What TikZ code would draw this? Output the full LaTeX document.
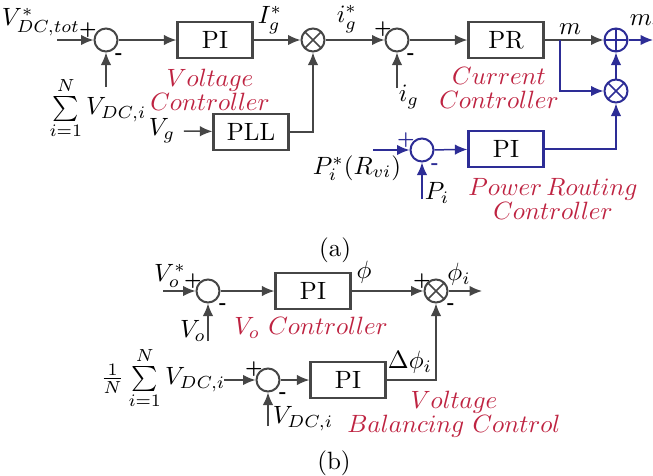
\documentclass[tikz,border=0pt]{standalone}
\usepackage{amsmath}
\usepackage{amssymb}
\usepackage{xcolor}
\usepackage{tikz}
\usetikzlibrary{positioning,arrows.meta,calc}
\definecolor{ctrlred}{RGB}{190,35,65}
\definecolor{routeblue}{RGB}{45,45,150}
\definecolor{linegray}{RGB}{70,70,70}

\begin{document}
\begin{tikzpicture}[
    x=0.4pt, y=-0.4pt,
    every node/.style={font=\normalsize},
    blk/.style={draw=linegray, line width=0.9pt, minimum width=30pt, minimum height=14.4pt, inner sep=0pt, fill=white},
    sumnode/.style={draw=#1, circle, line width=0.8pt, minimum size=9.2pt, inner sep=0pt},
    sumnode/.default=linegray,
    mulnode/.style={sumnode=#1, path picture={\draw[#1, line width=0.6pt]
        (path picture bounding box.north west) -- (path picture bounding box.south east)
        (path picture bounding box.north east) -- (path picture bounding box.south west);}},
    mulnode/.default=linegray,
    addnode/.style={sumnode=#1, path picture={\draw[#1, line width=0.6pt]
        (path picture bounding box.north) -- (path picture bounding box.south)
        (path picture bounding box.west) -- (path picture bounding box.east);}},
    addnode/.default=linegray,
    arrow/.style={-{Latex[length=5pt,width=4.2pt]}, draw=linegray, line width=0.6pt},
    link/.style={draw=linegray, line width=0.6pt},
    barrow/.style={arrow, draw=routeblue, color=routeblue},
    blink/.style={link, draw=routeblue},
    ctrl/.style={text=ctrlred, align=center, font=\fontsize{10}{9.6}\selectfont},
    pm/.style={font=\scriptsize\bfseries, inner sep=0pt}
  ]
  \useasboundingbox (0,0) rectangle (653,475);

  % --- (a) voltage loop ---
  \node[sumnode] (s1) at (106,40) {};
  \node[blk] (pi1) at (215,40) {PI};
  \node[mulnode] (x1) at (313,40) {};
  \node[blk] (pll) at (251,132) {PLL};
  \node (vref) at (41,22) {$V^{*}_{DC,tot}$};
  \coordinate (vin) at (57,40);
  \node (vsum) at (98,108) {$\sum\limits_{i=1}^{N} V_{DC,i}$};
  \coordinate (vfb) at (106,87);
  \node (vg) at (162,131) {$V_{g}$};
  \node (iref) at (270,20) {$I^{*}_{g}$};
  \node[ctrl] (vctrl) at (210,90) {$Voltage$\\$Controller$};
  \node[pm] at (88,30) {$\boldsymbol{+}$};
  \node[pm] at (119,56) {-};

  % --- (a) current loop ---
  \node[sumnode] (s2) at (397,40) {};
  \node[blk] (pr) at (506,40) {PR};
  \node[addnode=routeblue] (ad) at (616,40) {};
  \node[mulnode=routeblue] (x2) at (616,91) {};
  \node (igref) at (347,19) {$i^{*}_{g}$};
  \node (ig) at (409,97) {$i_{g}$};
  \coordinate (igfb) at (397,88);
  \node (m) at (570,29) {$m$};
  \node (mi) at (645,22) {$m_{i}$};
  \coordinate (mout) at (653,40);
  \coordinate (br) at (560,40);
  \node[ctrl] (cctrl) at (499,88) {$Current$\\$Controller$};
  \node[pm] at (383,29) {$\boldsymbol{+}$};
  \node[pm] at (411,56) {-};

  % --- (a) power routing loop ---
  \node[sumnode=routeblue] (s3) at (422,150) {};
  \node[blk, draw=routeblue] (pi2) at (506,149) {PI};
  \node (pref) at (357,168) {$P^{*}_{i}(R_{vi})$};
  \coordinate (pin) at (373,150);
  \node (pi) at (437,193) {$P_{i}$};
  \coordinate (pfb) at (422,199);
  \node[ctrl] (pctrl) at (553,199) {$Power\,Routing$\\$Controller$};
  \node[pm, text=routeblue] at (406,140) {$\boldsymbol{+}$};
  \node[pm, text=routeblue] at (435,166) {-};

  \node (capa) at (335,250) {(a)};

  % --- (b) ---
  \node[sumnode] (s4) at (208,291) {};
  \node[blk] (pi3) at (313,291) {PI};
  \node[mulnode] (x3) at (436,291) {};
  \node (voref) at (170,276) {$V^{*}_{o}$};
  \coordinate (voin) at (163,291);
  \node (vo) at (193,331) {$V_{o}$};
  \coordinate (vofb) at (208,341);
  \node (phi) at (364,272) {$\phi$};
  \node (phii) at (459,274) {$\phi_{i}$};
  \coordinate (phiout) at (482,291);
  \node[ctrl] (voctrl) at (311,328) {$V_{o}\ Controller$};
  \node[pm] at (193,281) {$\boldsymbol{+}$};
  \node[pm] at (223,306) {-};
  \node[pm] at (422,281) {$\boldsymbol{+}$};
  \node[pm] at (451,306) {-};

  \node[sumnode] (s5) at (268,380) {};
  \node[blk] (pi4) at (348,380) {PI};
  \node (avg) at (163,378) {$\frac{1}{N}\sum\limits_{i=1}^{N} V_{DC,i}$};
  \coordinate (avgin) at (224,380);
  \node (vdci) at (303,419) {$V_{DC,i}$};
  \coordinate (vdcfb) at (268,426);
  \node (dphi) at (410,362) {$\Delta\phi_{i}$};
  \node[ctrl] (bctrl) at (454,414) {$Voltage$\\$Balancing\ Control$};
  \node[pm] at (254,369) {$\boldsymbol{+}$};
  \node[pm] at (283,395) {-};

  \node (capb) at (334,463) {(b)};

  % --- arrows (a) ---
  \draw[arrow] (vin) -- (s1);
  \draw[arrow] (vfb) -- (s1);
  \draw[arrow] (s1) -- (pi1);
  \draw[arrow] (pi1) -- (x1);
  \draw[arrow] (vg.east) -- (pll);
  \draw[arrow] (pll.east) -| (x1.south);
  \draw[arrow] (x1) -- (s2);
  \draw[arrow] (igfb) -- (s2);
  \draw[arrow] (s2) -- (pr);
  \draw[link] (pr) -- (br);
  \draw[arrow] (br) -- (ad);
  \draw[barrow] (br) |- (x2);
  \draw[barrow] (x2) -- (ad);
  \draw[barrow] (ad) -- (mout);
  \draw[barrow] (pin) -- (s3);
  \draw[barrow] (pfb) -- (s3);
  \draw[barrow] (s3) -- (pi2);
  \draw[barrow] (pi2.east) -| (x2.south);

  % --- arrows (b) ---
  \draw[arrow] (voin) -- (s4);
  \draw[arrow] (vofb) -- (s4);
  \draw[arrow] (s4) -- (pi3);
  \draw[arrow] (pi3) -- (x3);
  \draw[arrow] (x3) -- (phiout);
  \draw[arrow] (avgin) -- (s5);
  \draw[arrow] (vdcfb) -- (s5);
  \draw[arrow] (s5) -- (pi4);
  \draw[arrow] (pi4.east) -| (x3.south);

\end{tikzpicture}
\end{document}
